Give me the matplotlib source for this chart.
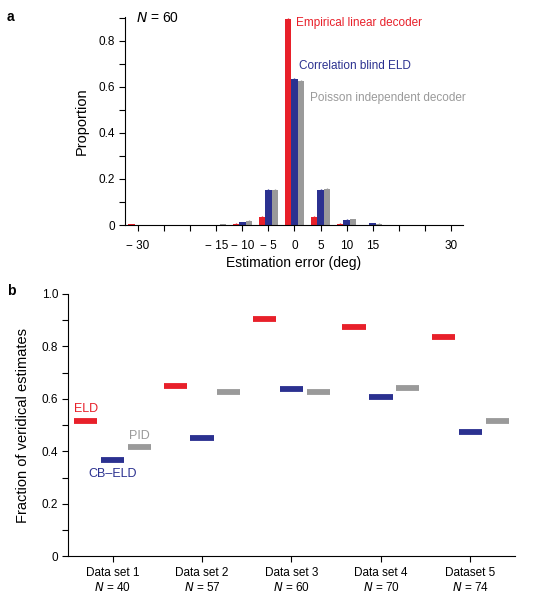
import matplotlib.pyplot as plt
import numpy as np

RED = '#e8202a'
BLUE = '#2b3190'
GRAY = '#9a9a9a'

# panel a: histogram of estimation errors (N = 60)
err_deg = [-30, -25, -20, -15, -10, -5, 0, 5, 10, 15, 20, 25, 30]
eld = [0.003, 0, 0, 0.001, 0.005, 0.036, 0.895, 0.036, 0.005, 0.001, 0, 0, 0]
cbeld = [0, 0, 0, 0.002, 0.013, 0.152, 0.636, 0.152, 0.022, 0.008, 0, 0, 0]
pid = [0, 0, 0, 0.003, 0.018, 0.154, 0.625, 0.158, 0.025, 0.006, 0, 0, 0]
eld_err = [0.002, 0, 0, 0, 0.002, 0.003, 0.004, 0.003, 0.002, 0, 0, 0, 0]
cbeld_err = [0, 0, 0, 0, 0.002, 0.004, 0.005, 0.004, 0.002, 0.002, 0, 0, 0]
pid_err = [0, 0, 0, 0, 0.002, 0.004, 0.005, 0.004, 0.002, 0.001, 0, 0, 0]
xtick_labels = ['\u2212 30', '', '', '\u2212 15', '\u2212 10', '\u2212 5', '0', '5', '10', '15', '', '', '30']

# panel b: fraction of veridical estimates per data set
datasets = ['Data set 1', 'Data set 2', 'Data set 3', 'Data set 4', 'Dataset 5']
n_cells = [40, 57, 60, 70, 74]
frac_eld = [0.515, 0.648, 0.903, 0.874, 0.837]
frac_cbeld = [0.366, 0.449, 0.637, 0.606, 0.473]
frac_pid = [0.416, 0.625, 0.626, 0.640, 0.514]

plt.rcParams['font.family'] = ['Liberation Sans', 'DejaVu Sans']
plt.rcParams['font.size'] = 8.5

fig = plt.figure(figsize=(5.51, 6.0), dpi=100)

# ---------------- panel a
ax = fig.add_axes([0.227, 0.625, 0.613, 0.347])
x = np.array(err_deg, dtype=float)
w = 1.25
ekw = dict(elinewidth=1.0, capsize=0)
ax.bar(x - w, eld, w, color=RED, yerr=eld_err, ecolor=RED, error_kw=ekw)
ax.bar(x, cbeld, w, color=BLUE, yerr=cbeld_err, ecolor=BLUE, error_kw=ekw)
ax.bar(x + w, pid, w, color=GRAY, yerr=pid_err, ecolor=GRAY, error_kw=ekw)

ax.set_xlim(-32.5, 32.3)
ax.set_ylim(0, 0.905)
ax.set_xticks(err_deg)
ax.set_xticklabels(xtick_labels)
ax.set_yticks(np.arange(0, 0.91, 0.1))
ax.set_yticklabels(['0', '', '0.2', '', '0.4', '', '0.6', '', '0.8', ''])
ax.spines['top'].set_visible(False)
ax.spines['right'].set_visible(False)
ax.tick_params(direction='out', length=4, width=0.8)
ax.tick_params(axis='x', pad=7)
ax.tick_params(axis='y', pad=3)
ax.set_xlabel('Estimation error (deg)', fontsize=10, labelpad=3)
ax.set_ylabel('Proportion', fontsize=10.5, labelpad=7)

ax.text(-30.5, 0.9, '$N$ = 60', fontsize=10, va='center', ha='left')
ax.text(0.3, 0.877, 'Empirical linear decoder', color=RED, fontsize=8.5, va='center')
ax.text(0.8, 0.69, 'Correlation blind ELD', color=BLUE, fontsize=8.5, va='center')
ax.text(3.0, 0.55, 'Poisson independent decoder', color=GRAY, fontsize=8.5, va='center')

fig.text(0.012, 0.972, 'a', fontweight='bold', fontsize=10, va='center')

# ---------------- panel b
bx = fig.add_axes([0.123, 0.073, 0.812, 0.437])
pos = np.arange(1, len(datasets) + 1)
off = 0.3
hw = 0.13
bx.hlines(frac_eld, pos - off - hw, pos - off + hw, color=RED, lw=4.2)
bx.hlines(frac_cbeld, pos - hw, pos + hw, color=BLUE, lw=4.2)
bx.hlines(frac_pid, pos + off - hw, pos + off + hw, color=GRAY, lw=4.2)

bx.set_xlim(0.5, 5.5)
bx.set_ylim(0, 1.0)
bx.set_xticks(pos)
bx.set_xticklabels([f'{d}\n$N$ = {n}' for d, n in zip(datasets, n_cells)])
bx.set_yticks(np.arange(0, 1.01, 0.1))
bx.set_yticklabels(['0', '', '0.2', '', '0.4', '', '0.6', '', '0.8', '', '1.0'])
bx.spines['top'].set_visible(False)
bx.spines['right'].set_visible(False)
bx.tick_params(direction='out', length=4, width=0.8)
bx.tick_params(axis='x', pad=4)
bx.tick_params(axis='y', pad=3)
bx.set_ylabel('Fraction of veridical estimates', fontsize=10.5, labelpad=8)

bx.text(1 - off, frac_eld[0] + 0.045, 'ELD', color=RED, fontsize=9, ha='center', va='center')
bx.text(1 + off, frac_pid[0] + 0.044, 'PID', color=GRAY, fontsize=9, ha='center', va='center')
bx.text(1, frac_cbeld[0] - 0.052, 'CB\u2013ELD', color=BLUE, fontsize=9, ha='center', va='center')

fig.text(0.012, 0.515, 'b', fontweight='bold', fontsize=10, va='center')

fig.savefig('out.png', dpi=100)
